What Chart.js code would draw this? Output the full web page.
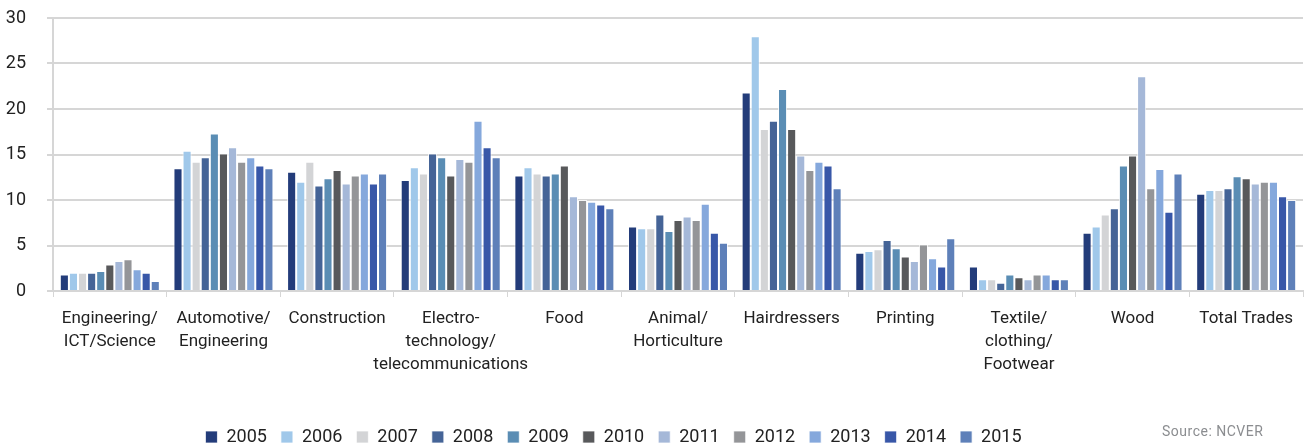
<!DOCTYPE html>
<html>
<head>
<meta charset="utf-8">
<script src="https://cdn.jsdelivr.net/npm/chart.js@4.4.1/dist/chart.umd.min.js"></script>
<style>
  html, body { margin: 0; padding: 0; background: #fff; }
  #wrap { position: relative; width: 1306px; height: 448px; }
  #source {
    position: absolute; left: 1162px; top: 423px;
    font: 14px Roboto, sans-serif; letter-spacing: 0.5px; color: #8b8d90;
  }
</style>
</head>
<body>
<div id="wrap">
  <canvas id="chart"></canvas>
  <div id="source">Source: NCVER</div>
</div>
<script>
// Categories (multi-line labels as arrays)
const categories = [
  ['Engineering/', 'ICT/Science'],
  ['Automotive/', 'Engineering'],
  'Construction',
  ['Electro-', 'technology/', 'telecommunications'],
  'Food',
  ['Animal/', 'Horticulture'],
  'Hairdressers',
  'Printing',
  ['Textile/', 'clothing/', 'Footwear'],
  'Wood',
  'Total Trades'
];

const years = ['2005', '2006', '2007', '2008', '2009', '2010', '2011', '2012', '2013', '2014', '2015'];

// Values per year, one per category
const v2005 = [1.8, 13.5, 13.1, 12.2, 12.7, 7.1, 21.8, 4.2, 2.7, 6.4, 10.7];
const v2006 = [2.0, 15.4, 12.0, 13.6, 13.6, 6.9, 28.0, 4.4, 1.3, 7.1, 11.1];
const v2007 = [2.0, 14.2, 14.2, 12.9, 12.9, 6.9, 17.8, 4.6, 1.3, 8.4, 11.1];
const v2008 = [2.0, 14.7, 11.6, 15.1, 12.7, 8.4, 18.7, 5.6, 0.9, 9.1, 11.3];
const v2009 = [2.2, 17.3, 12.4, 14.7, 12.9, 6.6, 22.2, 4.7, 1.8, 13.8, 12.6];
const v2010 = [2.9, 15.1, 13.3, 12.7, 13.8, 7.8, 17.8, 3.8, 1.5, 14.9, 12.4];
const v2011 = [3.3, 15.8, 11.8, 14.5, 10.4, 8.2, 14.9, 3.3, 1.3, 23.6, 11.8];
const v2012 = [3.5, 14.2, 12.7, 14.2, 10.0, 7.8, 13.3, 5.1, 1.8, 11.3, 12.0];
const v2013 = [2.4, 14.7, 12.9, 18.7, 9.8, 9.6, 14.2, 3.6, 1.8, 13.4, 12.0];
const v2014 = [2.0, 13.8, 11.8, 15.8, 9.5, 6.4, 13.8, 2.7, 1.3, 8.7, 10.4];
const v2015 = [1.1, 13.5, 12.9, 14.7, 9.1, 5.3, 11.3, 5.8, 1.3, 12.9, 10.0];

const seriesValues = [v2005, v2006, v2007, v2008, v2009, v2010, v2011, v2012, v2013, v2014, v2015];

const yearColors = [
  '#233c7a', '#a0c8ea', '#d3d4d6', '#456497', '#5a8db4', '#58595b',
  '#a5b8d8', '#949598', '#85a8dc', '#3857a8', '#5e80b9'
];

const FONT = 'Roboto, "Liberation Sans", sans-serif';
const TEXT = '#222222';
const GRID = '#d6d6d6';

// Nudge the legend so it sits where the original has it
const legendShift = {
  id: 'legendShift',
  beforeDraw(chart) {
    const lg = chart.legend;
    if (!lg) return;
    lg.left -= 41; lg.right -= 41;
    lg.top += 10; lg.bottom += 10;
  }
};

new Chart(document.getElementById('chart'), {
  type: 'bar',
  data: {
    labels: categories,
    datasets: years.map((y, i) => ({
      label: y,
      data: seriesValues[i],
      backgroundColor: yearColors[i],
      borderColor: 'rgba(255,255,255,0.75)',
      borderWidth: 1,
      barPercentage: 1.0,
      categoryPercentage: 0.88
    }))
  },
  options: {
    responsive: true,
    maintainAspectRatio: false,
    animation: false,
    layout: { padding: { left: 6, right: 3, top: 0, bottom: 2 } },
    plugins: {
      tooltip: { enabled: false },
      legend: {
        position: 'bottom',
        labels: {
          boxWidth: 12,
          boxHeight: 12,
          padding: 14,
          color: TEXT,
          font: { family: FONT, size: 18 }
        }
      }
    },
    scales: {
      x: {
        grid: {
          offset: true,
          drawOnChartArea: false,
          color: GRID,
          tickLength: 6
        },
        border: { color: GRID, width: 2 },
        ticks: {
          color: TEXT,
          maxRotation: 0,
          autoSkip: false,
          padding: 10,
          font: { family: FONT, size: 17, lineHeight: 1.35 }
        },
        afterFit(scale) { scale.height = 113; }
      },
      y: {
        min: 0,
        max: 30,
        ticks: {
          stepSize: 5,
          color: TEXT,
          padding: 21,
          font: { family: FONT, size: 18 }
        },
        grid: { color: GRID, lineWidth: 2, tickLength: 6 },
        border: { color: GRID, width: 2 },
        afterFit(scale) {
          scale.width = 47;
          scale.paddingTop = 18;
          scale.paddingBottom = 0;
        }
      }
    }
  },
  plugins: [legendShift]
});
</script>
</body>
</html>
